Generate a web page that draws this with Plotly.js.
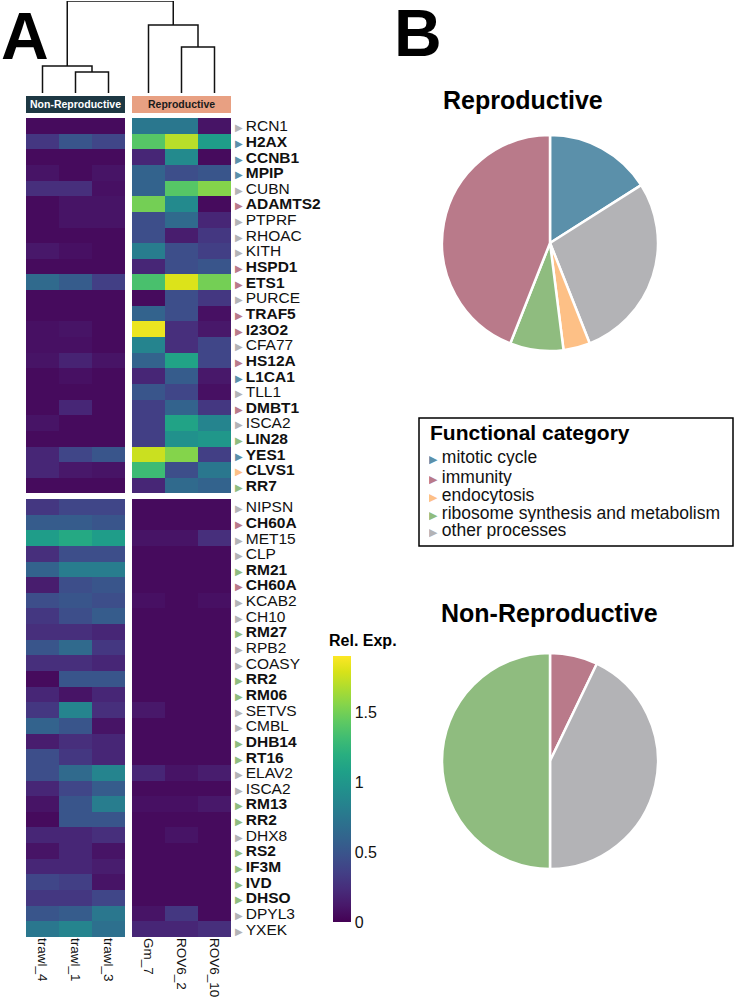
<!DOCTYPE html>
<html>
<head>
<meta charset="utf-8">
<script src="https://cdn.plot.ly/plotly-3.0.1.min.js"></script>
<style>
  html, body { margin: 0; padding: 0; background: #ffffff; }
  #fig { width: 735px; height: 1005px; }
</style>
</head>
<body>
<div id="fig"></div>
<script>
// ---------- samples (columns of the heatmap, in dendrogram order) ----------
const samples = ['trawl_4', 'trawl_1', 'trawl_3', 'Gm_7', 'ROV6_2', 'ROV6_10'];
const groupNames = ['Non-Reproductive', 'Reproductive'];

// ---------- genes up in reproductive tissue ----------
const genesUp = ['RCN1','H2AX','CCNB1','MPIP','CUBN','ADAMTS2','PTPRF','RHOAC','KITH','HSPD1',
  'ETS1','PURCE','TRAF5','I23O2','CFA77','HS12A','L1CA1','TLL1','DMBT1','ISCA2','LIN28','YES1','CLVS1','RR7'];
// category codes: m = mitotic cycle, i = immunity, e = endocytosis, r = ribosome, o = other
const catUp = ['o','m','m','m','o','i','o','o','o','i',
  'i','o','i','i','o','i','m','o','i','o','r','m','e','r'];
const exprUp = [
  [0.05,0.05,0.05, 0.75,0.75,0.10],
  [0.30,0.50,0.40, 1.40,1.70,1.05],
  [0.05,0.05,0.05, 0.20,0.90,0.05],
  [0.10,0.05,0.10, 0.60,0.45,0.50],
  [0.25,0.25,0.08, 0.60,1.40,1.55],
  [0.05,0.10,0.10, 1.50,0.90,0.05],
  [0.05,0.10,0.10, 0.45,0.65,0.20],
  [0.05,0.05,0.05, 0.45,0.15,0.30],
  [0.12,0.08,0.05, 0.80,0.45,0.35],
  [0.05,0.05,0.05, 0.20,0.45,0.50],
  [0.65,0.55,0.35, 1.35,1.80,1.50],
  [0.05,0.05,0.05, 0.05,0.45,0.30],
  [0.05,0.05,0.05, 0.60,0.45,0.08],
  [0.08,0.10,0.05, 1.85,0.25,0.12],
  [0.08,0.08,0.05, 0.85,0.25,0.40],
  [0.10,0.18,0.10, 0.60,1.10,0.40],
  [0.05,0.08,0.05, 0.20,0.55,0.12],
  [0.05,0.05,0.05, 0.50,0.40,0.08],
  [0.05,0.20,0.05, 0.35,0.60,0.30],
  [0.10,0.05,0.05, 0.35,1.10,0.85],
  [0.05,0.05,0.05, 0.35,0.95,1.00],
  [0.20,0.40,0.50, 1.75,1.55,0.35],
  [0.20,0.12,0.10, 1.30,0.45,0.75],
  [0.05,0.05,0.05, 0.20,0.65,0.60]
];

// ---------- genes up in non-reproductive tissue ----------
const genesDown = ['NIPSN','CH60A','MET15','CLP','RM21','CH60A','KCAB2','CH10','RM27','RPB2',
  'COASY','RR2','RM06','SETVS','CMBL','DHB14','RT16','ELAV2','ISCA2','RM13','RR2','DHX8','RS2','IF3M',
  'IVD','DHSO','DPYL3','YXEK'];
const catDown = ['o','i','o','o','r','i','o','o','r','o',
  'o','r','r','o','o','r','r','o','o','r','r','o','r','r',
  'r','r','o','o'];
const exprDown = [
  [0.30,0.40,0.40, 0.05,0.05,0.05],
  [0.55,0.55,0.50, 0.05,0.05,0.05],
  [1.05,1.15,1.05, 0.10,0.10,0.25],
  [0.25,0.45,0.45, 0.05,0.05,0.05],
  [0.60,0.80,0.80, 0.05,0.05,0.05],
  [0.15,0.45,0.50, 0.05,0.05,0.05],
  [0.45,0.50,0.45, 0.08,0.05,0.08],
  [0.30,0.45,0.55, 0.05,0.05,0.05],
  [0.25,0.25,0.20, 0.05,0.05,0.05],
  [0.50,0.65,0.30, 0.05,0.05,0.05],
  [0.25,0.25,0.20, 0.05,0.05,0.05],
  [0.05,0.50,0.50, 0.05,0.05,0.05],
  [0.20,0.10,0.20, 0.05,0.05,0.05],
  [0.30,0.85,0.25, 0.12,0.05,0.05],
  [0.60,0.50,0.10, 0.05,0.05,0.05],
  [0.15,0.25,0.20, 0.05,0.05,0.05],
  [0.45,0.30,0.20, 0.05,0.05,0.05],
  [0.45,0.65,0.85, 0.20,0.10,0.15],
  [0.20,0.40,0.55, 0.05,0.05,0.05],
  [0.10,0.50,0.80, 0.08,0.08,0.12],
  [0.05,0.50,0.50, 0.05,0.05,0.05],
  [0.20,0.20,0.25, 0.05,0.10,0.05],
  [0.10,0.20,0.10, 0.05,0.05,0.05],
  [0.20,0.20,0.15, 0.05,0.05,0.05],
  [0.40,0.35,0.10, 0.05,0.05,0.05],
  [0.30,0.30,0.40, 0.05,0.05,0.05],
  [0.50,0.55,0.75, 0.10,0.30,0.05],
  [0.75,0.85,0.70, 0.20,0.20,0.25]
];

// ---------- sample clustering: [childA, childB, height]; leaves are 0..5 ----------
const linkage = [
  [1, 2, 0.228],
  [0, 6, 0.293],
  [4, 5, 0.50],
  [3, 8, 0.74],
  [7, 9, 1.00]
];

// ---------- functional categories ----------
const catKeys   = ['m', 'i', 'e', 'r', 'o'];
const catLabels = ['mitotic cycle', 'immunity', 'endocytosis', 'ribosome synthesis and metabolism', 'other processes'];
const catColors = {m: '#5b90aa', i: '#b97a8a', e: '#fdc086', r: '#8fbc7f', o: '#b3b3b6'};

// pie counts (slices drawn clockwise from 12 o'clock)
const pieReproLabels    = ['mitotic cycle', 'other processes', 'endocytosis', 'ribosome synthesis and metabolism', 'immunity'];
const pieReproKeys      = ['m', 'o', 'e', 'r', 'i'];
const pieReproValues    = [4, 7, 1, 2, 11];
const pieNonReproLabels = ['immunity', 'other processes', 'ribosome synthesis and metabolism'];
const pieNonReproKeys   = ['i', 'o', 'r'];
const pieNonReproValues = [2, 12, 14];

// ---------- geometry helpers (page is 735 x 1005, no margins) ----------
const W = 735, H = 1005;
const px = x => x / W;
const py = y => 1 - y / H;
const FONT = 'Liberation Sans, Arial, Helvetica, sans-serif';

const gx = 7 / 33;      // white gap between the two sample groups (column units)
const gy = 5.5 / 15.65; // white gap between the two gene blocks (row units)

// heatmap with explicit brick edges; a null column / row forms the gaps
const xEdges = [0, 1, 2, 3, 3 + gx, 4 + gx, 5 + gx, 6 + gx];
const yEdges = [];
for (let i = 0; i <= genesUp.length; i++) yEdges.push(i);
for (let j = 0; j <= genesDown.length; j++) yEdges.push(genesUp.length + gy + j);

const rowWithGap = r => [r[0], r[1], r[2], null, r[3], r[4], r[5]];
const z = [];
exprUp.forEach(r => z.push(rowWithGap(r)));
z.push([null, null, null, null, null, null, null]);
exprDown.forEach(r => z.push(rowWithGap(r)));

const xCenters = [0.5, 1.5, 2.5, 3.5 + gx, 4.5 + gx, 5.5 + gx];

const tickLabel = (g, c) => {
  const tri = '<span style="color:' + catColors[c] + ';font-size:10px">▶ </span>';
  return tri + (c === 'o' ? g : '<b>' + g + '</b>');
};
const yTickVals = [], yTickText = [];
genesUp.forEach((g, i) => { yTickVals.push(i + 0.5); yTickText.push(tickLabel(g, catUp[i])); });
genesDown.forEach((g, j) => { yTickVals.push(genesUp.length + gy + j + 0.5); yTickText.push(tickLabel(g, catDown[j])); });

const heat = {
  type: 'heatmap',
  x: xEdges, y: yEdges, z: z,
  xaxis: 'x', yaxis: 'y',
  colorscale: 'Viridis', zmin: 0, zmax: 1.9,
  hoverongaps: false,
  colorbar: {
    x: px(333), xanchor: 'left', y: py(656), yanchor: 'top',
    len: 266 / H, lenmode: 'fraction',
    thickness: 18, thicknessmode: 'pixels',
    outlinewidth: 0, xpad: 0, ypad: 0,
    ticks: '', tickvals: [0, 0.5, 1, 1.5], ticktext: ['0', '0.5', '1', '1.5'],
    tickfont: {family: FONT, size: 16, color: '#111'}
  }
};

// dendrogram segments computed from the linkage table
const nodeX = xCenters.slice(), nodeH = [0, 0, 0, 0, 0, 0];
const dx = [], dy = [];
linkage.forEach(([a, b, h]) => {
  dx.push(nodeX[a], nodeX[a], nodeX[b], nodeX[b], null);
  dy.push(nodeH[a], h, h, nodeH[b], null);
  nodeX.push((nodeX[a] + nodeX[b]) / 2);
  nodeH.push(h);
});
const dendro = {
  type: 'scatter', mode: 'lines', x: dx, y: dy,
  xaxis: 'x', yaxis: 'y2', cliponaxis: false,
  line: {color: '#111', width: 1.5}, hoverinfo: 'skip', showlegend: false
};

const pieCommon = {
  type: 'pie', sort: false, direction: 'clockwise', rotation: 0,
  textinfo: 'none', hoverinfo: 'label+value', showlegend: false
};
const pieRepro = Object.assign({}, pieCommon, {
  labels: pieReproLabels, values: pieReproValues,
  marker: {colors: pieReproKeys.map(k => catColors[k]), line: {color: '#ffffff', width: 2.5}},
  domain: {x: [px(442), px(658)], y: [py(351), py(135)]}
});
const pieNonRepro = Object.assign({}, pieCommon, {
  labels: pieNonReproLabels, values: pieNonReproValues,
  marker: {colors: pieNonReproKeys.map(k => catColors[k]), line: {color: '#ffffff', width: 2.5}},
  domain: {x: [px(442), px(658)], y: [py(869), py(653)]}
});

// ---------- annotations and shapes ----------
const txt = (text, x, y, size, opts) => Object.assign({
  text: text, x: x, y: y, xref: 'paper', yref: 'paper',
  xanchor: 'center', yanchor: 'middle', showarrow: false,
  font: {family: FONT, size: size, color: '#000'}
}, opts || {});

const annotations = [
  txt('<b>A</b>', px(25), py(36), 66, {height: 60}),
  txt('<b>B</b>', px(418), py(33), 66, {height: 58}),
  txt('<b>' + groupNames[0] + '</b>', 1.5, py(104.5), 10.5, {xref: 'x', font: {family: FONT, size: 10.5, color: '#ffffff'}}),
  txt('<b>' + groupNames[1] + '</b>', 4.5 + gx, py(104.5), 10.5, {xref: 'x', font: {family: FONT, size: 10.5, color: '#1a1a1a'}}),
  txt('<b>Rel. Exp.</b>', px(327), py(640), 16, {xanchor: 'left'}),
  txt('<b>Reproductive</b>', px(523), py(100), 25),
  txt('<b>Non-Reproductive</b>', px(549.5), py(613), 25),
  txt('<b>Functional category</b>', px(428), py(433), 21, {xanchor: 'left'})
];
const legendY = [457, 477, 495, 513, 530];
catKeys.forEach((k, i) => {
  annotations.push(txt(
    '<span style="color:' + catColors[k] + ';font-size:11px">▶</span> ' + catLabels[i],
    px(427), py(legendY[i]), 17.5, {xanchor: 'left', height: 18, font: {family: FONT, size: 17.5, color: '#111'}}
  ));
});

const shapes = [
  {type: 'rect', xref: 'x', yref: 'paper', x0: 0, x1: 3, y0: py(113), y1: py(96),
   fillcolor: '#1d3843', line: {width: 0}},
  {type: 'rect', xref: 'x', yref: 'paper', x0: 3 + gx, x1: 6 + gx, y0: py(113), y1: py(96),
   fillcolor: '#e8a082', line: {width: 0}},
  {type: 'rect', xref: 'paper', yref: 'paper', x0: px(419), x1: px(733), y0: py(546), y1: py(418),
   fillcolor: 'rgba(0,0,0,0)', line: {color: '#000', width: 1.5}}
];

const layout = {
  width: W, height: H,
  margin: {l: 0, r: 0, t: 0, b: 0},
  paper_bgcolor: '#ffffff', plot_bgcolor: 'rgba(0,0,0,0)',
  font: {family: FONT, color: '#111'},
  showlegend: false,
  xaxis: {
    domain: [px(26), px(231)], range: [0, 6 + gx],
    showgrid: false, zeroline: false, showline: false, ticks: '',
    tickvals: xCenters, ticktext: samples, tickangle: 90,
    tickfont: {family: FONT, size: 13.5, color: '#111'}, fixedrange: true
  },
  yaxis: {
    domain: [py(937), py(118)], range: [genesUp.length + genesDown.length + gy, 0],
    side: 'right', anchor: 'x', ticklabelstandoff: 3,
    showgrid: false, zeroline: false, showline: false, ticks: '',
    tickvals: yTickVals, ticktext: yTickText,
    tickfont: {family: FONT, size: 15.5, color: '#111'}, fixedrange: true
  },
  yaxis2: {
    domain: [py(93), py(1)], range: [0, 1], anchor: 'x',
    visible: false, fixedrange: true
  },
  annotations: annotations,
  shapes: shapes
};

Plotly.newPlot('fig', [heat, dendro, pieRepro, pieNonRepro], layout, {displayModeBar: false, staticPlot: true});
</script>
</body>
</html>
